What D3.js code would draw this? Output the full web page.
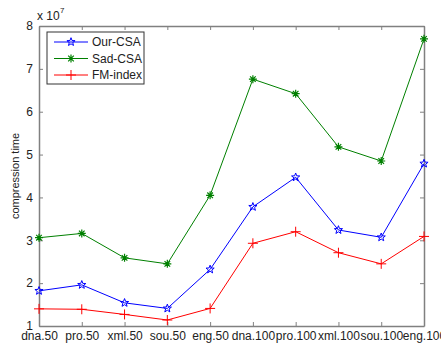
<!DOCTYPE html>
<html>
<head>
<meta charset="utf-8">
<script src="https://cdn.jsdelivr.net/npm/d3@7"></script>
<style>
  body { margin: 0; background: #fff; }
  text { font-family: "Liberation Sans", Arial, sans-serif; }
</style>
</head>
<body>
<div id="chart"></div>
<script>
// data (units of 1e7)
var categories = ["dna.50", "pro.50", "xml.50", "sou.50", "eng.50", "dna.100", "pro.100", "xml.100", "sou.100", "eng.100"];
var ourCSA = [1.82, 1.96, 1.54, 1.41, 2.32, 3.78, 4.47, 3.24, 3.07, 4.79];
var sadCSA = [3.06, 3.16, 2.59, 2.45, 4.05, 6.76, 6.42, 5.18, 4.85, 7.70];
var fmIndex = [1.40, 1.39, 1.27, 1.14, 1.41, 2.93, 3.20, 2.71, 2.45, 3.09];
var yTicks = [1, 2, 3, 4, 5, 6, 7, 8];

var series = [
  { name: "Our-CSA", values: ourCSA, color: "#0000ff", marker: "star" },
  { name: "Sad-CSA", values: sadCSA, color: "#008000", marker: "asterisk" },
  { name: "FM-index", values: fmIndex, color: "#ff0000", marker: "plus" }
];

const W = 441, H = 345;
const mLeft = 39, mRight = 424, mTop = 26, mBottom = 326;
const axisColor = "#808080";

var svg = d3.select("#chart").append("svg")
  .attr("width", W).attr("height", H);

var x = d3.scalePoint().domain(categories).range([mLeft, mRight]);
var y = d3.scaleLinear().domain([1, 8]).range([mBottom, mTop]);

// markers
function drawMarker(g, type, cx, cy, color) {
  if (type === "star") {
    var pts = [];
    for (var i = 0; i < 10; i++) {
      var r = i % 2 === 0 ? 4.3 : 1.8;
      var a = -Math.PI / 2 + i * Math.PI / 5;
      pts.push([cx + r * Math.cos(a), cy + r * Math.sin(a)]);
    }
    g.append("polygon").attr("points", pts.map(p => p.join(",")).join(" "))
      .attr("fill", "none").attr("stroke", color).attr("stroke-width", 1);
  } else if (type === "asterisk") {
    var s = 4;
    var d = "M" + (cx - s) + "," + cy + "H" + (cx + s) +
      "M" + cx + "," + (cy - s) + "V" + (cy + s) +
      "M" + (cx - s * 0.7) + "," + (cy - s * 0.7) + "L" + (cx + s * 0.7) + "," + (cy + s * 0.7) +
      "M" + (cx - s * 0.7) + "," + (cy + s * 0.7) + "L" + (cx + s * 0.7) + "," + (cy - s * 0.7);
    g.append("path").attr("d", d).attr("stroke", color).attr("stroke-width", 1.2).attr("fill", "none");
  } else {
    var s2 = 5;
    g.append("path").attr("d", "M" + (cx - s2) + "," + cy + "H" + (cx + s2) + "M" + cx + "," + (cy - s2) + "V" + (cy + s2))
      .attr("stroke", color).attr("stroke-width", 1).attr("fill", "none");
  }
}

// axes box
var axB = svg.append("g").attr("transform", "translate(0," + mBottom + ")")
  .call(d3.axisBottom(x).tickSizeInner(-4).tickSizeOuter(0).tickPadding(7));
var axT = svg.append("g").attr("transform", "translate(0," + mTop + ")")
  .call(d3.axisTop(x).tickSizeInner(-4).tickSizeOuter(0).tickFormat(""));
var axL = svg.append("g").attr("transform", "translate(" + mLeft + ",0)")
  .call(d3.axisLeft(y).tickValues(yTicks).tickSizeInner(-4).tickSizeOuter(0).tickPadding(6).tickFormat(d3.format("d")));
var axR = svg.append("g").attr("transform", "translate(" + mRight + ",0)")
  .call(d3.axisRight(y).tickValues(yTicks).tickSizeInner(-4).tickSizeOuter(0).tickFormat(""));

[axB, axT, axL, axR].forEach(function(a) {
  a.select(".domain").attr("stroke", axisColor).attr("stroke-width", 1.5);
  a.selectAll(".tick line").attr("stroke", axisColor);
  a.selectAll("text").attr("fill", "#222").style("font-size", "12px");
});
axB.selectAll("text").attr("dy", "0.55em");

// exponent
svg.append("text").attr("x", 37).attr("y", 20).style("font-size", "12px").attr("fill", "#222")
  .text("x 10");
svg.append("text").attr("x", 60).attr("y", 13).style("font-size", "8px").attr("fill", "#222")
  .text("7");

// y label
svg.append("text")
  .attr("transform", "translate(19," + ((mTop + mBottom) / 2) + ") rotate(-90)")
  .attr("text-anchor", "middle").style("font-size", "11px").attr("fill", "#222")
  .text("compression time");

// lines
var line = d3.line().x((d, i) => x(categories[i])).y(d => y(d));
series.forEach(function(s) {
  var g = svg.append("g");
  g.append("path").datum(s.values).attr("d", line)
    .attr("fill", "none").attr("stroke", s.color).attr("stroke-width", 1);
  s.values.forEach(function(v, i) {
    drawMarker(g, s.marker, x(categories[i]), y(v), s.color);
  });
});

// legend
var lg = svg.append("g");
lg.append("rect").attr("x", 47).attr("y", 32).attr("width", 97).attr("height", 52)
  .attr("fill", "#fff").attr("stroke", "#333").attr("stroke-width", 1);
series.forEach(function(s, i) {
  var ly = 42 + i * 16.5;
  lg.append("line").attr("x1", 54).attr("x2", 88).attr("y1", ly).attr("y2", ly)
    .attr("stroke", s.color).attr("stroke-width", 1);
  drawMarker(lg, s.marker, 71, ly, s.color);
  lg.append("text").attr("x", 92).attr("y", ly + 4).style("font-size", "12px").attr("fill", "#222")
    .text(s.name);
});
</script>
</body>
</html>
